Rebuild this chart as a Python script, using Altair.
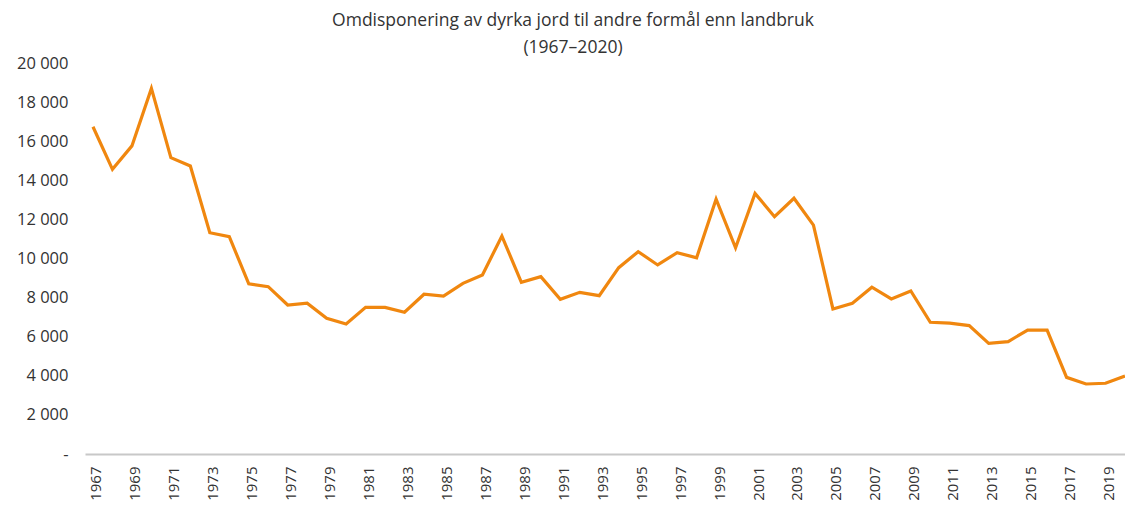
import altair as alt
import pandas as pd

years = list(range(1967, 2021))
values = [16740, 14560, 15760, 18700, 15160, 14730, 11320, 11120, 8700, 8560,
          7620, 7710, 6940, 6650, 7500, 7500, 7250, 8170, 8080, 8730,
          9160, 11150, 8780, 9070, 7910, 8270, 8100, 9530, 10350, 9670,
          10300, 10040, 13030, 10550, 13330, 12140, 13080, 11710, 7420, 7710,
          8530, 7930, 8340, 6740, 6690, 6570, 5660, 5750, 6340, 6340,
          3920, 3580, 3620, 3990]
x_tick_years = list(range(1967, 2020, 2))
y_ticks = list(range(0, 20001, 2000))
title_lines = ["Omdisponering av dyrka jord til andre formål enn landbruk", "(1967–2020)"]

df = pd.DataFrame({"year": years, "value": values})

font = "Open Sans"
chart = alt.Chart(df).mark_line(color="#F0870F", strokeWidth=3.2).encode(
    x=alt.X("year:Q",
            scale=alt.Scale(domain=[1966.59, 2020], nice=False, zero=False),
            axis=alt.Axis(values=x_tick_years, format="d", labelAngle=-90,
                          labelAlign="right", labelBaseline="middle", labelOffset=3,
                          ticks=False, grid=False, domainColor="#c8c8c8", domainWidth=2,
                          labelPadding=12, labelFont=font, labelFontSize=15,
                          labelColor="#333333", title=None, labelOverlap=False)),
    y=alt.Y("value:Q",
            scale=alt.Scale(domain=[0, 20000], nice=False),
            axis=alt.Axis(values=y_ticks, ticks=False, grid=False, domain=False,
                          labelPadding=17, labelFont=font, labelFontSize=16.5,
                          labelColor="#333333", title=None,
                          labelExpr="datum.value == 0 ? '-' : replace(format(datum.value, ','), ',', ' ')")),
).properties(
    width=1040,
    height=391,
    autosize=alt.AutoSizeParams(type="none"),
    padding={"left": 77, "top": 55, "right": 0, "bottom": 48},
    title=alt.TitleParams(text=title_lines, font=font, fontSize=17.5, fontWeight="normal",
                          color="#333333", anchor="middle", dx=-32, dy=15, offset=14, lineHeight=27),
).configure_view(stroke=None)

chart.save("out.html", embed_options={"renderer": "svg", "actions": False})
